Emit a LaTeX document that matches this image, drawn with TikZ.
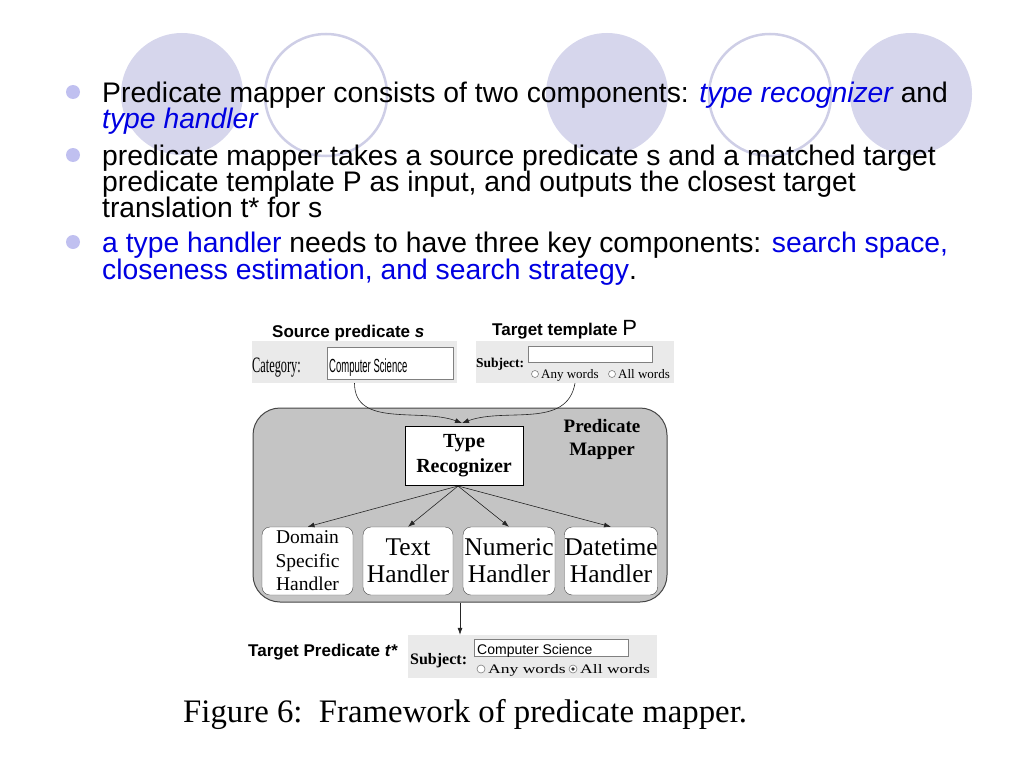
\documentclass[tikz,border=0pt]{standalone}
\usepackage{fontspec}
\setmainfont{Liberation Serif}
\setsansfont{Liberation Sans}
\newfontfamily\slidefont{Liberation Sans}
\newfontfamily\narrowserif[FakeStretch=0.56]{Liberation Serif}
\newfontfamily\narrowsans[FakeStretch=0.5]{Liberation Sans}
\newfontfamily\wideserif[FakeStretch=1.35]{Liberation Serif}
\usetikzlibrary{arrows.meta}
\definecolor{lav}{RGB}{214,214,236}
\definecolor{lavedge}{RGB}{206,206,230}
\definecolor{bulletlav}{RGB}{192,192,240}
\definecolor{slideblue}{RGB}{0,0,225}
\definecolor{formgray}{RGB}{234,234,234}
\definecolor{mappergray}{RGB}{196,196,196}
\definecolor{edgegray}{RGB}{70,70,70}
\tikzset{
  line/.style={anchor=base west,inner sep=0pt,font=\slidefont\fontsize{28.3}{28.3}\selectfont},
  label/.style={anchor=base west,inner sep=0pt},
  form/.style={fill=formgray,inner sep=0pt},
  field/.style={draw=gray,fill=white,inner sep=0pt},
  handler/.style={draw=edgegray,fill=white,rounded corners=8pt,minimum height=68pt,inner sep=0pt,align=center,font=\fontsize{25.5}{27}\selectfont},
  link/.style={-{Latex[length=7pt,width=5pt]},draw=black!85,semithick},
  radio/.style={draw=gray,fill=white,line width=0.6pt},
}
\begin{document}
\begin{tikzpicture}[x=1pt,y=-1pt]
\useasboundingbox (0,0) rectangle (1024,768);
%background circles
\foreach \cx in {182,607,911}
  \fill[lav] (\cx,94) circle (61);
\foreach \cx in {326,770}
  \draw[lavedge,line width=2.5pt] (\cx,95) circle (61);
%bullets
\foreach \by in {92,155,242}
  \fill[bulletlav] (73,\by) circle (7);
\node[line] (l1) at (102,102) {Predicate mapper consists of two components: \textcolor{slideblue}{\itshape type recognizer} and};
\node[line] (l2) at (102,128) {\textcolor{slideblue}{\itshape type handler}};
\node[line] (l3) at (102,165) {predicate mapper takes a source predicate s and a matched target};
\node[line] (l4) at (102,191) {predicate template P as input, and outputs the closest target};
\node[line] (l5) at (102,217) {translation t* for s};
\node[line] (l6) at (102,252) {\textcolor{slideblue}{a type handler} needs to have three key components: \textcolor{slideblue}{search space,}};
\node[line] (l7) at (102,279) {\textcolor{slideblue}{closeness estimation, and search strategy}.};
%source and template forms
\node[label,font=\sffamily\bfseries\fontsize{17}{17}\selectfont] (srclabel) at (272,337) {Source predicate \textit{s}};
\node[label,font=\sffamily\bfseries\fontsize{17}{17}\selectfont] (tgtlabel) at (492,335) {Target template {\mdseries\fontsize{22}{22}\selectfont P}};
\node[form,minimum width=205pt,minimum height=42pt] (srcform) at (354.5,362) {};
\node[field,minimum width=126pt,minimum height=32pt] (srcfield) at (390,363) {};
\node[label,font=\narrowserif\fontsize{22}{22}\selectfont] (category) at (252,372) {Category:};
\node[label,font=\narrowsans\fontsize{19}{19}\selectfont] (srcvalue) at (329,372) {Computer Science};
\node[form,minimum width=198pt,minimum height=42pt] (tgtform) at (575,362) {};
\node[field,minimum width=124pt,minimum height=16pt] (tgtfield) at (590,354) {};
\node[label,font=\bfseries\fontsize{13.5}{13.5}\selectfont] (tgtsubject) at (476,367) {Subject:};
\draw[radio] (535,374) circle (3.5);
\draw[radio] (612,374) circle (3.5);
\node[label,font=\fontsize{13}{13}\selectfont] (tgtany) at (541,378) {Any words};
\node[label,font=\fontsize{13}{13}\selectfont] (tgtall) at (618,378) {All words};
%predicate mapper
\node[draw=edgegray,fill=mappergray,line width=1pt,rounded corners=27pt,minimum width=414pt,minimum height=194pt,inner sep=0pt] (mapper) at (460,505) {};
\node[align=center,font=\bfseries\fontsize{19}{23}\selectfont] (mappername) at (602,439) {Predicate\\Mapper};
\node[draw=black,fill=white,line width=0.8pt,minimum width=118pt,minimum height=59pt,inner sep=0pt,align=center,font=\bfseries\fontsize{20}{25}\selectfont] (typerec) at (464,455.5) {Type\\Recognizer};
\node[handler,minimum width=91pt,font=\fontsize{19.5}{23.5}\selectfont] (domain) at (307.5,561) {Domain\\Specific\\Handler};
\node[handler,minimum width=90pt] (text) at (408,561) {Text\\Handler};
\node[handler,minimum width=92pt] (numeric) at (509,561) {Numeric\\Handler};
\node[handler,minimum width=92pt] (datetime) at (611,561) {Datetime\\Handler};
\coordinate (merge) at (462,423);
\coordinate (split) at (458,486);
\draw[link] (srcform.south) to[out=-90,in=160] (merge);
\draw[link] (tgtform.south) to[out=-100,in=20] (merge);
\foreach \h in {domain,text,numeric,datetime}
  \draw[link] (split) -- (\h.north);
%target predicate form
\node[form,minimum width=249pt,minimum height=43pt] (outform) at (532.5,656.5) {};
\node[field,minimum width=154pt,minimum height=17pt] (outfield) at (551,647.5) {};
\draw[link] (mapper.south) -- (mapper.south |- outform.north);
\node[label,font=\sffamily\bfseries\fontsize{17}{17}\selectfont] (outlabel) at (248,656) {Target Predicate \textit{t*}};
\node[label,font=\bfseries\fontsize{16}{16}\selectfont] (outsubject) at (410,664) {Subject:};
\node[label,font=\sffamily\fontsize{14}{14}\selectfont] (outvalue) at (477,654) {Computer Science};
\draw[radio] (481,669) circle (4);
\draw[radio] (573,669) circle (4);
\fill[black!80] (573,669) circle (1.8);
\node[label,font=\wideserif\fontsize{13}{13}\selectfont] (outany) at (488,673) {Any words};
\node[label,font=\wideserif\fontsize{13}{13}\selectfont] (outall) at (580,673) {All words};
%caption
\node[label,font=\fontsize{32.8}{32.8}\selectfont] (caption) at (183,722) {Figure 6:\ \ Framework of predicate mapper.};
\end{tikzpicture}
\end{document}
